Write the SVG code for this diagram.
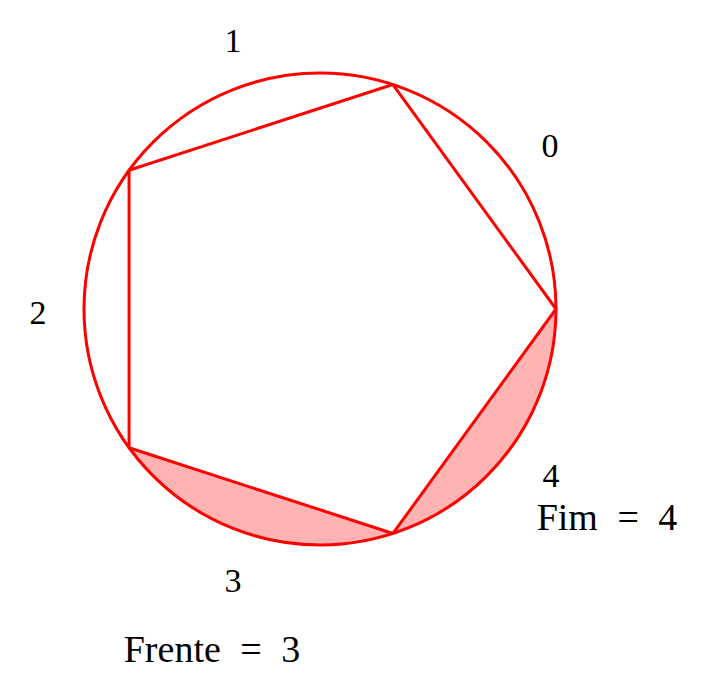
<svg xmlns="http://www.w3.org/2000/svg" width="716" height="697" viewBox="0 0 716 697">
<style>
.ln{fill:none;stroke:#ff0000;stroke-width:3;stroke-linejoin:round}
.sh{fill:#ffb3b3;stroke:none}
.t{font-family:"Liberation Serif","DejaVu Serif",serif;font-size:34px;fill:#000;text-anchor:middle}
.p{font-size:38px;word-spacing:10px}
</style>
<rect width="716" height="697" fill="#fff"/>
<g id="shading">
<path class="sh" d="M129.07 447.72 A236 236 0 0 0 392.93 533.45 Z"/>
<path class="sh" d="M392.93 533.45 A236 236 0 0 0 556 309 Z"/>
</g>
<g id="circle">
<circle class="ln" cx="320" cy="309" r="236"/>
</g>
<g id="connectors">
<polygon class="ln" points="556,309 392.93,84.55 129.07,170.28 129.07,447.72 392.93,533.45"/>
</g>
<g id="labels">
<text class="t" x="233" y="52">1</text>
<text class="t" x="550" y="157">0</text>
<text class="t" x="38" y="324">2</text>
<text class="t" x="233" y="592">3</text>
<text class="t" x="551" y="487">4</text>
<text class="t p" x="607" y="530">Fim = 4</text>
<text class="t p" x="212" y="662">Frente = 3</text>
</g>
</svg>
